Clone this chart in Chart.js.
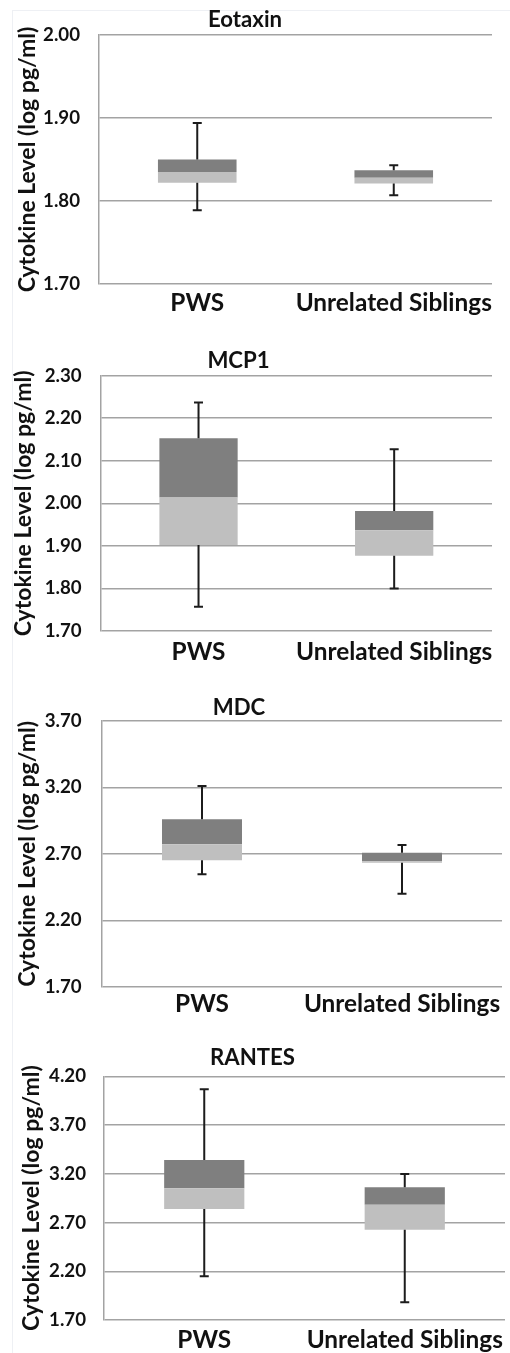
<!DOCTYPE html>
<html>
<head>
<meta charset="utf-8">
<script src="https://cdn.jsdelivr.net/npm/chart.js@4.4.1/dist/chart.umd.min.js"></script>
<style>
  html, body { margin: 0; padding: 0; background: #ffffff; width: 510px; height: 1353px; overflow: hidden; }
  #frame { position: absolute; left: 12px; top: 10px; width: 498px; height: 1343px; border-left: 1px solid #eef0f4; border-top: 1px solid #eef0f4; }
  canvas { position: absolute; }
</style>
</head>
<body>
<div id="frame"></div>
<canvas id="c1"></canvas>
<canvas id="c2"></canvas>
<canvas id="c3"></canvas>
<canvas id="c4"></canvas>
<script>
// ---------------- DATA ----------------
const categories = ['PWS', 'Unrelated Siblings'];

// Eotaxin
const eotaxinLow    = [1.789, 1.807];
const eotaxinQ1     = [1.822, 1.821];
const eotaxinMedian = [1.835, 1.828];
const eotaxinQ3     = [1.850, 1.837];
const eotaxinHigh   = [1.894, 1.843];
const eotaxinTicks  = [1.70, 1.80, 1.90, 2.00];

// MCP1
const mcp1Low    = [1.757, 1.800];
const mcp1Q1     = [1.902, 1.877];
const mcp1Median = [2.014, 1.937];
const mcp1Q3     = [2.153, 1.982];
const mcp1High   = [2.237, 2.127];
const mcp1Ticks  = [1.70, 1.80, 1.90, 2.00, 2.10, 2.20, 2.30];

// MDC
const mdcLow    = [2.546, 2.400];
const mdcQ1     = [2.651, 2.633];
const mdcMedian = [2.772, 2.645];
const mdcQ3     = [2.960, 2.709];
const mdcHigh   = [3.211, 2.767];
const mdcTicks  = [1.70, 2.20, 2.70, 3.20, 3.70];

// RANTES
const rantesLow    = [2.148, 1.881];
const rantesQ1     = [2.839, 2.627];
const rantesMedian = [3.051, 2.883];
const rantesQ3     = [3.342, 3.061];
const rantesHigh   = [4.067, 3.198];
const rantesTicks  = [1.70, 2.20, 2.70, 3.20, 3.70, 4.20];

const yAxisTitle = 'Cytokine Level (log pg/ml)';

// ---------------- STYLE / LAYOUT ----------------
const FONT = 'Lato';
function fitFont(text, targetWidth) {
  const ctx = document.createElement('canvas').getContext('2d');
  ctx.font = 'bold 100px ' + FONT;
  const w = ctx.measureText(text).width;
  return Math.round(1000 * targetWidth / w) / 10;
}
const CAT_SIZE = fitFont('Unrelated Siblings', 196);
const TICK_SIZE = fitFont('2.00', 37);
const TITLE_SIZE = fitFont('Eotaxin', 74);
const YTITLE_SIZE = Math.min(fitFont(yAxisTitle, 280), 23);
const DARK = '#7f7f7f', LIGHT = '#bfbfbf', GRID = '#a3a3a3', INK = '#111111';

const panels = [
  { id: 'c1', title: 'Eotaxin', low: eotaxinLow, q1: eotaxinQ1, med: eotaxinMedian, q3: eotaxinQ3, high: eotaxinHigh, ticks: eotaxinTicks,
    top: 0, height: 325, titleX: 254, titleY: 20, plotTop: 35, plotBottom: 284, plotLeft: 99, plotRight: 492, catY: 303, tickRight: 80, yTitleX: 27.5 },
  { id: 'c2', title: 'MCP1', low: mcp1Low, q1: mcp1Q1, med: mcp1Median, q3: mcp1Q3, high: mcp1High, ticks: mcp1Ticks,
    top: 325, height: 348, titleX: 247.5, titleY: 361, plotTop: 375.7, plotBottom: 631, plotLeft: 100.7, plotRight: 492, catY: 651.7, tickRight: 81.7, yTitleX: 23.5 },
  { id: 'c3', title: 'MDC', low: mdcLow, q1: mdcQ1, med: mdcMedian, q3: mdcQ3, high: mdcHigh, ticks: mdcTicks,
    top: 665, height: 362, titleX: 243, titleY: 708, plotTop: 721, plotBottom: 986.7, plotLeft: 102, plotRight: 502, catY: 1004, tickRight: 81.7, yTitleX: 27.5 },
  { id: 'c4', title: 'RANTES', low: rantesLow, q1: rantesQ1, med: rantesMedian, q3: rantesQ3, high: rantesHigh, ticks: rantesTicks,
    top: 1018, height: 335, titleX: 260, titleY: 1058, plotTop: 1076.3, plotBottom: 1320, plotLeft: 104, plotRight: 505, catY: 1340, tickRight: 86, yTitleX: 31.7 }
];

const whiskerPlugin = {
  id: 'whiskers',
  afterDatasetsDraw(chart, args, opts) {
    const p = opts.panel;
    const xs = chart.scales.x, ys = chart.scales.y;
    const ctx = chart.ctx;
    ctx.save();
    ctx.strokeStyle = '#1c1c1c';
    ctx.lineWidth = 2;
    const cap = 4.5;
    categories.forEach((c, i) => {
      const x = xs.getPixelForValue(i);
      const yH = ys.getPixelForValue(p.high[i]);
      const yQ3 = ys.getPixelForValue(p.q3[i]);
      const yQ1 = ys.getPixelForValue(p.q1[i]);
      const yL = ys.getPixelForValue(p.low[i]);
      ctx.beginPath();
      ctx.moveTo(x, yH); ctx.lineTo(x, yQ3);
      ctx.moveTo(x, yQ1); ctx.lineTo(x, yL);
      ctx.moveTo(x - cap, yH); ctx.lineTo(x + cap, yH);
      ctx.moveTo(x - cap, yL); ctx.lineTo(x + cap, yL);
      ctx.stroke();
    });
    ctx.restore();
  }
};

panels.forEach(p => {
  const c = p.titleX;
  const canvasLeft = c < 255 ? 2 * c - 510 : 0;
  const canvasWidth = c < 255 ? 510 - canvasLeft : 2 * c;
  const cv = document.getElementById(p.id);
  cv.width = canvasWidth; cv.height = p.height;
  cv.style.left = canvasLeft + 'px'; cv.style.top = p.top + 'px';
  cv.style.width = canvasWidth + 'px'; cv.style.height = p.height + 'px';

  const tLH = TITLE_SIZE * 1.2;
  const titlePadTop = (p.titleY - p.top) - tLH / 2;
  const titlePadBottom = (p.plotTop - p.top) - titlePadTop - tLH;
  const yAxisWidth = p.plotLeft - canvasLeft;
  const padRight = canvasWidth - (p.plotRight - canvasLeft);
  const xAxisHeight = p.height - (p.plotBottom - p.top);
  const catLH = CAT_SIZE * 1.2;
  const catPad = p.catY - p.plotBottom - catLH / 2;
  const yTLH = YTITLE_SIZE * 1.2;
  const yTitlePad = p.yTitleX - canvasLeft - yTLH / 2;

  new Chart(cv, {
    type: 'bar',
    data: {
      labels: categories,
      datasets: [
        { label: 'Q1-Median', data: categories.map((_, i) => [p.q1[i], p.med[i]]), backgroundColor: LIGHT, borderWidth: 0 },
        { label: 'Median-Q3', data: categories.map((_, i) => [p.med[i], p.q3[i]]), backgroundColor: DARK, borderWidth: 0 }
      ]
    },
    options: {
      responsive: false,
      animation: false,
      devicePixelRatio: 1,
      grouped: false,
      categoryPercentage: 1,
      barPercentage: 0.4,
      layout: { padding: { left: 0, right: padRight, top: 0, bottom: 0 } },
      plugins: {
        legend: { display: false },
        tooltip: { enabled: false },
        title: { display: true, text: p.title, color: INK, font: { family: FONT, size: TITLE_SIZE, weight: 'bold' }, padding: { top: titlePadTop, bottom: titlePadBottom } },
        whiskers: { panel: p }
      },
      scales: {
        x: {
          grid: { display: false, drawTicks: false },
          border: { display: false },
          ticks: { color: INK, padding: catPad, maxRotation: 0, autoSkip: false, font: { family: FONT, size: CAT_SIZE, weight: 'bold' } },
          afterFit(s) { s.height = xAxisHeight; s.paddingLeft = 0; s.paddingRight = 0; }
        },
        y: {
          min: p.ticks[0],
          max: p.ticks[p.ticks.length - 1],
          afterBuildTicks(s) { s.ticks = p.ticks.map(v => ({ value: v })); },
          grid: { color: GRID, lineWidth: 1.5, drawTicks: false },
          border: { display: true, color: GRID, width: 1.5 },
          ticks: { color: INK, padding: p.plotLeft - p.tickRight, font: { family: FONT, size: TICK_SIZE, weight: 'bold' }, callback: v => Number(v).toFixed(2) },
          title: { display: true, text: yAxisTitle, color: INK, font: { family: FONT, size: YTITLE_SIZE, weight: 'bold' }, padding: { top: yTitlePad, bottom: 0 } },
          afterFit(s) { s.width = yAxisWidth; s.paddingTop = 0; s.paddingBottom = 0; }
        }
      }
    },
    plugins: [whiskerPlugin]
  });
});
</script>
</body>
</html>
